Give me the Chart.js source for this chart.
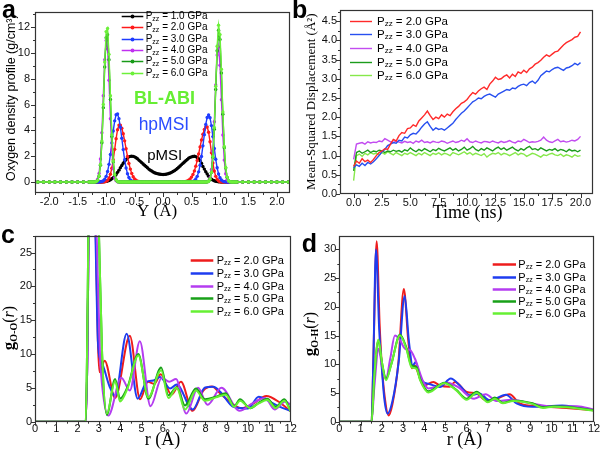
<!DOCTYPE html>
<html>
<head>
<meta charset="utf-8">
<script src="https://cdn.jsdelivr.net/npm/chart.js@4/dist/chart.umd.min.js"></script>
<style>
  html, body { margin: 0; padding: 0; background: #fff; }
  #wrap { position: relative; width: 602px; height: 452px; overflow: hidden; }
  canvas { position: absolute; }
</style>
</head>
<body>
<div id="wrap">
  <canvas id="ca" width="300" height="226" style="left:0;top:0"></canvas>
  <canvas id="cb" width="314" height="226" style="left:288px;top:0"></canvas>
  <canvas id="cc" width="300" height="226" style="left:0;top:226px"></canvas>
  <canvas id="cd" width="302" height="226" style="left:300px;top:226px"></canvas>
</div>
<script>
/* (a) oxygen density profile, Y in Angstrom */
var densX = [
  -2.3,-2.2,-2.1,-2.0,-1.9,-1.8,-1.7,-1.6,-1.5,-1.4,
  -1.3,-1.275,-1.25,-1.225, -1.2,-1.175,-1.15,-1.125, -1.1,-1.075,-1.05,-1.025,
  -1.0,-0.975,-0.95,-0.925, -0.9,-0.875,-0.85,-0.825, -0.8,-0.775,-0.75,-0.725,
  -0.7,-0.675,-0.65,-0.625, -0.6,-0.575,-0.55,-0.525, -0.5,-0.475,-0.45,-0.425,
  -0.4,-0.375,-0.35,-0.325, -0.3,-0.275,-0.25,-0.225, -0.2,-0.175,-0.15,-0.125,
  -0.1,-0.075,-0.05,-0.025, 0,0.025,0.05,0.075, 0.1,0.125,0.15,0.175,
  0.2,0.225,0.25,0.275, 0.3,0.325,0.35,0.375, 0.4,0.425,0.45,0.475,
  0.5,0.525,0.55,0.575, 0.6,0.625,0.65,0.675, 0.7,0.725,0.75,0.775,
  0.8,0.825,0.85,0.875, 0.9,0.925,0.95,0.975, 1.0,1.025,1.05,1.075,
  1.1,1.125,1.15,1.175, 1.2,1.225,1.25,1.275, 1.3,
  1.4,1.5,1.6,1.7,1.8,1.9,2.0,2.1,2.2,2.3
];
var dens10 = [
  0,0,0,0,0,0,0,0,0,0,
  0,0,0,0, 0,0,0,0, 0,0.01,0.02,0.03,
  0.05,0.08,0.12,0.18, 0.25,0.34,0.45,0.59, 0.75,0.92,1.1,1.28,
  1.45,1.61,1.75,1.87, 1.95,1.99,2.0,1.99, 1.95,1.88,1.8,1.7,
  1.6,1.5,1.4,1.3, 1.2,1.1,1.0,0.92, 0.85,0.78,0.72,0.68,
  0.65,0.62,0.6,0.59, 0.58,0.59,0.6,0.63, 0.66,0.7,0.75,0.81,
  0.88,0.96,1.05,1.15, 1.25,1.35,1.45,1.55, 1.65,1.75,1.85,1.91,
  1.95,1.98,2.0,1.97, 1.9,1.8,1.65,1.45, 1.2,1.0,0.8,0.62,
  0.45,0.32,0.22,0.15, 0.1,0.06,0.04,0.02, 0.01,0,0,0,
  0,0,0,0, 0,0,0,0, 0,
  0,0,0,0,0,0,0,0,0,0
];
var dens20 = [
  0,0,0,0,0,0,0,0,0,0,
  0,0,0,0, 0,0,0,0, 0,0,0.01,0.02,
  0.06,0.14,0.31,0.60, 1.07,1.73,2.53,3.36, 4.05,4.41,4.41,4.17,
  3.74,3.19,2.58,1.98, 1.44,1.00,0.66,0.41, 0.24,0.14,0.07,0.04,
  0.02,0.01,0,0,
  0,0,0,0,0,0,0,0, 0,0,0,0,0,0,0,0, 0,0,0,0,0,0,0,0,
  0,0,0.01,0.02, 0.04,0.08,0.14,0.23,
  0.38,0.58,0.86,1.23, 1.67,2.18,2.72,3.25, 3.71,4.07,4.27,4.26,
  3.86,3.12,2.26,1.47, 0.85,0.44,0.21,0.09, 0.03,0.01,0,0,
  0,0,0,0, 0,0,0,0, 0,
  0,0,0,0,0,0,0,0,0,0
];
var dens30 = [
  0,0,0,0,0,0,0,0,0,0,
  0,0,0,0, 0,0,0,0.01, 0.02,0.04,0.10,0.22,
  0.44,0.81,1.37,2.13, 3.03,3.96,4.74,5.22, 5.27,4.91,4.24,3.39,
  2.51,1.72,1.09,0.64, 0.35,0.17,0.08,0.04, 0.01,0,0,0,
  0,0,0,0,0,0,0,0, 0,0,0,0,0,0,0,0, 0,0,0,0,0,0,0,0, 0,0,0,0,0,0,0,0,
  0,0,0,0.01,
  0.02,0.05,0.11,0.23, 0.44,0.79,1.30,1.98, 2.80,3.67,4.46,5.00,
  5.2,4.98,4.37,3.52, 2.60,1.76,1.10,0.62, 0.33,0.16,0.07,0.03,
  0.01,0,0,0, 0,0,0,0, 0,
  0,0,0,0,0,0,0,0,0,0
];
var dens40 = [
  0,0,0,0,0,0,0,0,0,0,
  0,0,0,0, 0.01,0.05,0.21,0.67, 1.78,3.82,6.68,9.48,
  10.96,10.3,7.88,4.9, 2.48,1.02,0.34,0.09, 0.02,0,0,0,
  0,0,0,0,0,0,0,0, 0,0,0,0,0,0,0,0, 0,0,0,0,0,0,0,0, 0,0,0,0,0,0,0,0,
  0,0,0,0,0,0,0,0, 0,0,0,0,0,0,0,0, 0,0,0,0,0,0,0,0,
  0,0,0,0.02,
  0.09,0.33,0.97,2.36, 4.67,7.52,9.83,10.46, 9.05,6.37,3.64,1.70,
  0.64,0.20,0.05,0.01, 0,0,0,0, 0,
  0,0,0,0,0,0,0,0,0,0
];
var dens50 = [
  0,0,0,0,0,0,0,0,0,0,
  0,0,0,0, 0,0.03,0.12,0.45, 1.30,3.04,5.76,8.91,
  11.17,11.41,9.48,6.40, 3.52,1.56,0.57,0.17, 0.04,0.01,0,0,
  0,0,0,0,0,0,0,0, 0,0,0,0,0,0,0,0, 0,0,0,0,0,0,0,0, 0,0,0,0,0,0,0,0,
  0,0,0,0,0,0,0,0, 0,0,0,0,0,0,0,0, 0,0,0,0,0,0,0,0,
  0,0,0,0.01,
  0.06,0.22,0.73,1.91, 4.09,7.17,10.17,11.75, 11.04,8.45,5.25,2.66,
  1.09,0.37,0.10,0.02, 0,0,0,0, 0,
  0,0,0,0,0,0,0,0,0,0
];
var dens60 = [
  0,0,0,0,0,0,0,0,0,0,
  0,0,0,0, 0,0.03,0.13,0.47, 1.36,3.17,6.01,9.29,
  11.65,11.9,9.89,6.68, 3.67,1.63,0.59,0.18, 0.04,0.01,0,0,
  0,0,0,0,0,0,0,0, 0,0,0,0,0,0,0,0, 0,0,0,0,0,0,0,0, 0,0,0,0,0,0,0,0,
  0,0,0,0,0,0,0,0, 0,0,0,0,0,0,0,0, 0,0,0,0,0,0,0,0,
  0,0,0,0.01,
  0.06,0.23,0.75,1.98, 4.23,7.41,10.52,12.15, 11.42,8.74,5.43,2.75,
  1.13,0.38,0.10,0.02, 0,0,0,0, 0,
  0,0,0,0,0,0,0,0,0,0
];

/* (b) mean-squared displacement vs time (ns) */
var msdTime = [
  0,0.25,0.5,0.75,1,1.25,1.5,1.75,
  2,2.25,2.5,2.75,3,3.25,3.5,3.75,
  4,4.25,4.5,4.75,5,5.25,5.5,5.75,
  6,6.25,6.5,6.75,7,7.25,7.5,7.75,
  8,8.25,8.5,8.75,9,9.25,9.5,9.75,
  10,10.25,10.5,10.75,11,11.25,11.5,11.75,
  12,12.25,12.5,12.75,13,13.25,13.5,13.75,
  14,14.25,14.5,14.75,15,15.25,15.5,15.75,
  16,16.25,16.5,16.75,17,17.25,17.5,17.75,
  18,18.25,18.5,18.75,19,19.25,19.5,19.75,
  20
];
var msd20 = [
  0.72,0.86,0.80,0.92,0.84,0.88,0.82,0.90,
  1.00,1.08,1.12,1.18,1.16,1.30,1.42,1.38,
  1.52,1.60,1.58,1.70,1.72,1.80,1.76,1.90,
  1.98,2.06,2.16,2.04,1.94,2.00,1.96,2.06,
  2.00,2.08,2.04,2.14,2.22,2.28,2.36,2.40,
  2.46,2.56,2.64,2.60,2.68,2.74,2.78,2.72,
  2.86,2.94,3.04,2.98,3.00,3.06,3.10,3.02,
  3.12,3.06,3.18,3.14,3.22,3.16,3.26,3.30,
  3.38,3.42,3.48,3.56,3.62,3.58,3.64,3.70,
  3.72,3.80,3.88,3.94,3.98,4.02,4.08,4.10,
  4.22
];
var msd30 = [
  0.68,0.76,0.72,0.80,0.74,0.82,0.78,0.84,
  0.92,1.00,1.10,1.16,1.26,1.30,1.34,1.32,
  1.40,1.38,1.48,1.46,1.54,1.58,1.56,1.64,
  1.74,1.82,1.88,1.76,1.66,1.72,1.68,1.70,
  1.66,1.72,1.78,1.84,1.94,2.02,2.10,2.16,
  2.24,2.32,2.40,2.44,2.50,2.48,2.54,2.58,
  2.60,2.56,2.52,2.60,2.64,2.68,2.72,2.70,
  2.76,2.74,2.80,2.84,2.86,2.82,2.90,2.94,
  2.88,2.96,3.08,3.14,3.20,3.18,3.24,3.28,
  3.30,3.26,3.22,3.28,3.30,3.34,3.40,3.36,
  3.42
];
var msd40 = [
  0.90,1.30,1.32,1.34,1.30,1.36,1.33,1.35,
  1.34,1.38,1.36,1.44,1.40,1.36,1.34,1.38,
  1.35,1.33,1.37,1.34,1.36,1.32,1.38,1.35,
  1.40,1.34,1.36,1.33,1.37,1.35,1.34,1.38,
  1.36,1.32,1.35,1.38,1.34,1.36,1.40,1.37,
  1.44,1.36,1.34,1.38,1.35,1.33,1.37,1.36,
  1.34,1.38,1.35,1.33,1.37,1.34,1.36,1.39,
  1.35,1.33,1.38,1.36,1.42,1.38,1.34,1.36,
  1.35,1.37,1.40,1.48,1.40,1.36,1.34,1.38,
  1.42,1.36,1.38,1.35,1.37,1.40,1.38,1.42,
  1.50
];
var msd50 = [
  0.60,1.08,1.12,1.06,1.10,1.14,1.08,1.12,
  1.10,1.14,1.12,1.08,1.12,1.10,1.14,1.11,
  1.13,1.09,1.15,1.12,1.20,1.14,1.10,1.16,
  1.12,1.18,1.14,1.10,1.16,1.13,1.19,1.15,
  1.12,1.16,1.20,1.14,1.18,1.12,1.16,1.22,
  1.14,1.18,1.24,1.16,1.12,1.18,1.14,1.20,
  1.16,1.12,1.18,1.22,1.16,1.20,1.14,1.18,
  1.22,1.16,1.12,1.18,1.14,1.20,1.24,1.16,
  1.18,1.14,1.20,1.16,1.12,1.16,1.14,1.18,
  1.12,1.16,1.14,1.10,1.16,1.12,1.14,1.10,
  1.14
];
var msd60 = [
  0.35,1.00,1.04,0.98,1.06,1.02,1.08,1.04,
  1.06,1.02,1.08,1.04,1.10,1.06,1.02,1.08,
  1.04,1.00,1.06,1.03,1.08,1.04,1.00,1.06,
  1.02,1.08,1.04,1.00,1.06,1.03,1.07,1.02,
  1.06,1.04,1.00,1.08,1.05,1.02,1.06,1.10,
  1.04,1.08,1.02,1.06,1.03,1.00,1.05,0.96,
  1.02,1.06,1.04,1.08,1.02,1.06,1.04,1.00,
  1.04,1.08,1.02,1.06,1.04,0.98,1.02,1.06,
  1.04,1.00,0.96,1.02,1.00,1.04,1.06,1.02,
  1.00,1.04,0.98,1.02,1.00,0.96,1.02,0.98,
  1.00
];

/* (c) g O-O (r): key points */
var ooX20 = [0,2.38,2.46,2.55,2.7,2.85,2.95,3.03,3.27,3.76,4.45,4.93,5.3,5.6,5.9,6.4,6.85,7.4,7.9,8.3,8.75,9.7,10.3,10.85,11.5,12];
var ooY20 = [0,0,10,38,46,28,12,7.3,9.0,3.5,12.7,3.3,5.9,5.6,7.0,4.0,5.9,1.6,4.6,5.2,4.0,2.0,2.8,3.8,2.8,1.5];
var ooX30 = [0,2.38,2.46,2.55,2.7,2.84,2.95,3.08,3.2,3.5,3.76,4.3,4.82,5.24,5.56,5.87,6.34,6.65,7.4,7.98,8.37,8.7,9.3,10.0,10.5,10.88,11.5,12];
var ooY30 = [0,0,10,38,46,27,12,9.0,8.2,5.2,3.8,13.0,3.4,5.9,6.1,6.6,4.9,5.5,1.8,5.05,5.15,4.4,2.2,1.95,3.7,3.2,2.2,1.6];
var ooX40 = [0,2.38,2.46,2.55,2.7,2.9,3.05,3.2,3.44,4.05,4.45,4.92,5.42,5.95,6.3,6.62,7.1,7.65,8.1,8.75,9.6,10.2,10.8,11.25,11.75,12];
var ooY40 = [0,0,10,38,46,27,10,4.0,0.9,6.5,4.6,11.9,2.3,6.5,5.9,6.3,1.2,5.0,2.5,5.0,1.6,2.7,3.5,1.8,3.0,2.5];
var ooX50 = [0,2.38,2.45,2.55,2.75,2.92,3.0,3.15,3.37,3.76,3.99,4.35,4.85,5.32,5.92,6.26,6.65,7.04,7.55,7.98,8.5,8.95,9.35,9.62,10.1,10.5,10.9,11.3,11.7,12];
var ooY50 = [0,0,12,40,48,36,28,10,1.0,6.3,3.4,5.2,10.0,3.4,8.0,3.9,5.1,2.4,4.9,3.3,3.7,4.2,2.3,3.3,2.0,2.8,3.4,2.2,3.3,1.6];
var ooY60 = [0,0,12,40,48,36,28,10,1.2,6.0,3.0,5.0,9.8,3.6,7.6,3.5,5.0,1.8,4.6,3.1,3.6,4.0,2.2,3.1,2.0,2.7,3.2,2.0,3.1,1.5];

/* (d) g O-H (r) */
var ohX20 = [0,1.52,1.6,1.76,1.9,2.0,2.15,2.32,2.5,2.78,3.04,3.25,3.42,3.56,3.7,3.96,4.43,4.74,5.2,5.45,6.0,6.47,6.94,7.4,8.02,8.5,9.45,10.7,12];
var ohY20 = [0,0,10,31.4,17,10,4,1.1,3.0,10.1,23.1,14.1,9.3,9.8,8.6,6.3,6.9,6.3,6.1,6.9,5.2,4.9,3.7,4.0,4.8,3.2,2.7,2.4,2.0];
var ohX30 = [0,1.52,1.6,1.73,1.88,2.0,2.12,2.27,2.5,2.8,3.08,3.28,3.46,3.6,3.75,3.96,4.2,4.74,5.25,5.68,6.15,6.6,7.1,7.85,8.35,9.1,10.5,12];
var ohY30 = [0,0,10,30.0,16,9.5,4,1.4,3.5,10.5,21.9,14,9.8,10.4,8.5,6.9,6.6,6.05,7.5,6.3,4.6,4.9,3.7,4.7,3.2,2.6,2.8,2.0];
var ohX40 = [0,1.52,1.65,1.85,2.0,2.2,2.4,2.62,2.86,3.1,3.33,3.56,3.96,4.2,4.58,5.1,5.6,6.35,6.9,7.4,8.1,9.0,10.2,11.2,12];
var ohY40 = [0,0,6,12.7,10,7.5,11,15.0,14.2,12.7,12.5,11.0,6.9,5.8,6.1,6.8,6.0,4.0,4.8,3.6,3.8,3.2,2.6,2.7,2.1];
var ohX50 = [0,1.52,1.65,1.84,2.0,2.2,2.45,2.86,3.15,3.4,3.64,3.8,4.2,4.95,5.5,6.0,6.47,7.0,7.33,7.7,8.2,9.1,9.6,10.1,10.7,12];
var ohY50 = [0,0,8,14.1,10.5,7.5,10,15.2,13,9.8,9.5,7.5,5.3,6.8,5.6,4.0,5.2,3.5,4.2,3.3,3.7,3.2,2.5,2.7,2.6,2.0];
var ohY60 = [0,0,8,14.3,10.6,7.2,10,15.0,12.8,9.5,9.2,7.3,5.1,6.7,5.5,3.8,5.0,3.4,4.0,3.2,3.6,3.1,2.4,2.6,2.5,1.9];

var pressA = ['1.0', '2.0', '3.0', '4.0', '5.0', '6.0'];
var pressB = ['2.0', '3.0', '4.0', '5.0', '6.0'];
var colorsA = ['#000000', '#ff1a1a', '#1f3cff', '#c030f0', '#189a18', '#6cf03a'];
var colorsB = ['#ff2a2a', '#2850f0', '#c24cf0', '#1c9c1c', '#86e84a'];
var colorsCD = ['#ee1c1c', '#1e3cf0', '#b43cf0', '#18a018', '#66f033'];

var SANS = '"Liberation Sans", Arial, Helvetica, sans-serif';
var SERIF = '"Liberation Serif", "Times New Roman", Times, serif';

function pts(name, xs, ys) {
    if (xs.length !== ys.length) { throw new Error(name + ': ' + xs.length + ' x vs ' + ys.length + ' y'); }
    return xs.map(function (x, i) { return { x: x, y: ys[i] }; });
}

function tickMarks(ctx, scale, minor, major, horizontal, a) {
    var k0 = Math.ceil(scale.min / minor - 1e-6);
    for (var k = k0; k * minor <= scale.max + 1e-9; k++) {
        var v = k * minor;
        var r = v / major;
        var len = Math.abs(r - Math.round(r)) < 1e-6 ? 4 : 2;
        var p = Math.round(scale.getPixelForValue(v)) + 0.5;
        if (horizontal) { ctx.moveTo(p, a.bottom); ctx.lineTo(p, a.bottom + len); }
        else { ctx.moveTo(a.left, p); ctx.lineTo(a.left - len, p); }
    }
}

// "Pzz = 2.0 GPa" with the zz lowered
function pLabel(ctx, x, y, label, size) {
    ctx.textAlign = 'left';
    ctx.textBaseline = 'middle';
    ctx.font = size + 'px ' + SANS;
    ctx.fillText('P', x, y);
    x += ctx.measureText('P').width;
    ctx.font = Math.round(size * 0.68) + 'px ' + SANS;
    ctx.fillText('zz', x, y + size * 0.22);
    x += ctx.measureText('zz').width;
    ctx.font = size + 'px ' + SANS;
    ctx.fillText(label.slice(3), x, y);
}

var deco = {
    id: 'deco',
    afterDraw: function (chart, args, o) {
        var ctx = chart.ctx, a = chart.chartArea;
        var sx = chart.scales.x, sy = chart.scales.y;
        ctx.save();
        // frame + outward ticks
        ctx.strokeStyle = '#333';
        ctx.lineWidth = 1.2;
        ctx.strokeRect(Math.round(a.left) + 0.5, Math.round(a.top) + 0.5,
            Math.round(a.right - a.left) - 1, Math.round(a.bottom - a.top) - 1);
        ctx.lineWidth = 1;
        ctx.beginPath();
        tickMarks(ctx, sx, o.minorX, o.majorX, true, a);
        tickMarks(ctx, sy, o.minorY, o.majorY, false, a);
        ctx.stroke();

        // legend
        var L = o.legend;
        chart.data.datasets.forEach(function (ds, i) {
            var y = Math.round(L.top + i * L.gap) + 0.5;
            ctx.strokeStyle = ds.borderColor;
            ctx.lineWidth = L.lw;
            ctx.beginPath(); ctx.moveTo(L.x0, y); ctx.lineTo(L.x1, y); ctx.stroke();
            if (L.marker) {
                ctx.fillStyle = ds.borderColor;
                ctx.beginPath(); ctx.arc((L.x0 + L.x1) / 2, y, L.marker, 0, Math.PI * 2); ctx.fill();
            }
            ctx.fillStyle = '#000';
            pLabel(ctx, L.tx, y, ds.label, L.size);
        });

        // notes placed in data units
        (o.notes || []).forEach(function (n) {
            ctx.font = n.font;
            ctx.fillStyle = n.color;
            ctx.textAlign = 'center';
            ctx.textBaseline = 'alphabetic';
            ctx.fillText(n.text, sx.getPixelForValue(n.x), sy.getPixelForValue(n.y));
        });

        // plain titles
        ctx.fillStyle = '#000';
        (o.titles || []).forEach(function (t) {
            ctx.save();
            ctx.translate(t.x, t.y);
            if (t.rot) { ctx.rotate(-Math.PI / 2); }
            ctx.font = t.font;
            ctx.textAlign = 'center';
            ctx.textBaseline = 'middle';
            ctx.fillText(t.text, 0, 0);
            ctx.restore();
        });

        // g_sub(r) style title
        if (o.rich) {
            var R = o.rich, total = 0;
            ctx.save();
            ctx.translate(R.x, R.y);
            ctx.rotate(-Math.PI / 2);
            ctx.textAlign = 'left';
            ctx.textBaseline = 'alphabetic';
            R.parts.forEach(function (p) { ctx.font = p.font; p.w = ctx.measureText(p.text).width; total += p.w; });
            var cx = -total / 2;
            R.parts.forEach(function (p) { ctx.font = p.font; ctx.fillText(p.text, cx, p.dy || 0); cx += p.w; });
            ctx.restore();
        }

        // panel letter
        ctx.font = 'bold 25px ' + SANS;
        ctx.textAlign = 'left';
        ctx.textBaseline = 'alphabetic';
        ctx.fillText(o.letter.text, o.letter.x, o.letter.y);
        ctx.restore();
    }
};

function axis(min, max, step, pad, fit, horizontal, fmt) {
    return {
        type: 'linear', min: min, max: max,
        grid: { display: false, drawTicks: false, tickLength: 0 },
        border: { display: false },
        ticks: {
            stepSize: step, includeBounds: false, autoSkip: false, maxRotation: 0,
            padding: pad, color: '#111', font: { family: SANS, size: 11 },
            callback: function (v) { return fmt ? v.toFixed(fmt) : String(Math.round(v)); }
        },
        afterFit: function (s) { if (horizontal) { s.height = fit; } else { s.width = fit; } }
    };
}

function baseOptions(padding, scales, deco) {
    return {
        animation: false, responsive: false, events: [],
        layout: { padding: padding },
        plugins: { legend: { display: false }, tooltip: { enabled: false }, deco: deco },
        scales: scales
    };
}

function gTitle(sub, x, y) {
    return {
        x: x, y: y,
        parts: [
            { text: 'g', font: 'bold 17px ' + SERIF },
            { text: sub, font: 'bold 10px ' + SERIF, dy: 3 },
            { text: '(', font: '16px ' + SERIF },
            { text: 'r', font: 'italic 16px ' + SERIF },
            { text: ')', font: '16px ' + SERIF }
        ]
    };
}

document.addEventListener('DOMContentLoaded', function () {
    // (a)
    var densY = [dens10, dens20, dens30, dens40, dens50, dens60];
    new Chart(document.getElementById('ca'), {
        type: 'line',
        data: {
            datasets: densY.map(function (ys, i) {
                return {
                    label: 'Pzz = ' + pressA[i] + ' GPa',
                    data: pts('dens' + pressA[i], densX, ys),
                    borderColor: colorsA[i], backgroundColor: colorsA[i],
                    borderWidth: 1.4, pointRadius: 1.7, pointBorderWidth: 0,
                    pointBackgroundColor: colorsA[i], tension: 0, order: densY.length - i
                };
            })
        },
        options: baseOptions({ top: 5, right: 10, left: 0, bottom: 0 }, {
            x: axis(-2.25, 2.23, 0.5, 2, 33, true, 1),
            y: axis(-0.85, 13.2, 2, 5, 35, false, 0)
        }, {
            minorX: 0.25, majorX: 0.5, minorY: 1, majorY: 2,
            legend: { x0: 121.7, x1: 143.3, tx: 145.7, top: 15.7, gap: 11.4, size: 10, lw: 1.5, marker: 1.9 },
            notes: [
                { text: 'BL-ABI', x: 0.025, y: 6.05, font: 'bold 18px ' + SANS, color: '#66ee33' },
                { text: 'hpMSI', x: 0.015, y: 4.06, font: '17.5px ' + SANS, color: '#2a4cff' },
                { text: 'pMSI', x: 0.03, y: 1.67, font: '15px ' + SANS, color: '#000' }
            ],
            titles: [
                { text: 'Y (\u00c5)', x: 157, y: 212, font: '17px ' + SERIF },
                { text: 'Oxygen density profile (g/cm\u00b3)', x: 11.5, y: 97.7, rot: true, font: '12.5px ' + SANS }
            ],
            letter: { text: 'a', x: 2, y: 18 }
        }),
        plugins: [deco]
    });

    // (b)
    var msdY = [msd20, msd30, msd40, msd50, msd60];
    new Chart(document.getElementById('cb'), {
        type: 'line',
        data: {
            datasets: msdY.map(function (ys, i) {
                return {
                    label: 'Pzz = ' + pressB[i] + ' GPa',
                    data: pts('msd' + pressB[i], msdTime, ys),
                    borderColor: colorsB[i], borderWidth: 1.4, pointRadius: 0, tension: 0
                };
            })
        },
        options: baseOptions({ top: 5, right: 9, left: 0, bottom: 0 }, {
            x: axis(-1.2, 21.1, 2.5, 2, 32, true, 1),
            y: axis(0, 4.8, 0.5, 3, 52, false, 1)
        }, {
            minorX: 1.25, majorX: 2.5, minorY: 0.25, majorY: 0.5,
            legend: { x0: 62, x1: 84, tx: 89, top: 20.7, gap: 13.6, size: 11.5, lw: 1.4 },
            titles: [
                { text: 'Time (ns)', x: 179.5, y: 213, font: '18px ' + SERIF },
                { text: 'Mean-Squared Displacement (\u00c5\u00b2)', x: 23.7, y: 101.7, rot: true, font: '13px ' + SERIF }
            ],
            letter: { text: 'b', x: 4, y: 18 }
        }),
        plugins: [deco]
    });

    // (c)
    var ooSets = [[ooX20, ooY20], [ooX30, ooY30], [ooX40, ooY40], [ooX50, ooY50], [ooX50, ooY60]];
    new Chart(document.getElementById('cc'), {
        type: 'line',
        data: {
            datasets: ooSets.map(function (s, i) {
                return {
                    label: 'Pzz = ' + pressB[i] + ' GPa',
                    data: pts('oo' + pressB[i], s[0], s[1]),
                    borderColor: colorsCD[i], borderWidth: 2, pointRadius: 0,
                    cubicInterpolationMode: 'monotone', order: ooSets.length - i
                };
            })
        },
        options: baseOptions({ top: 8.3, right: 9.3, left: 0, bottom: 0 }, {
            x: axis(0, 12, 1, 1, 30.3, true, 0),
            y: axis(0, 27.5, 5, 3, 35, false, 0)
        }, {
            minorX: 0.5, majorX: 1, minorY: 2.5, majorY: 5,
            legend: { x0: 190.7, x1: 213.3, tx: 216.7, top: 34, gap: 12.75, size: 11, lw: 2.5 },
            titles: [{ text: 'r (\u00c5)', x: 162.5, y: 214, font: '18px ' + SERIF }],
            rich: gTitle('O-O', 14, 102),
            letter: { text: 'c', x: 1, y: 17 }
        }),
        plugins: [deco]
    });

    // (d)
    var ohSets = [[ohX20, ohY20], [ohX30, ohY30], [ohX40, ohY40], [ohX50, ohY50], [ohX50, ohY60]];
    new Chart(document.getElementById('cd'), {
        type: 'line',
        data: {
            datasets: ohSets.map(function (s, i) {
                return {
                    label: 'Pzz = ' + pressB[i] + ' GPa',
                    data: pts('oh' + pressB[i], s[0], s[1]),
                    borderColor: colorsCD[i], borderWidth: 2, pointRadius: 0,
                    cubicInterpolationMode: 'monotone', order: ohSets.length - i
                };
            })
        },
        options: baseOptions({ top: 8.3, right: 8, left: 0, bottom: 0 }, {
            x: axis(0, 12, 1, 1, 30.3, true, 0),
            y: axis(0, 32.4, 5, 3, 39.3, false, 0)
        }, {
            minorX: 0.5, majorX: 1, minorY: 2.5, majorY: 5,
            legend: { x0: 192.7, x1: 216, tx: 218.3, top: 38.3, gap: 12.25, size: 11, lw: 2.5 },
            titles: [{ text: 'r (\u00c5)', x: 164.5, y: 214, font: '18px ' + SERIF }],
            rich: gTitle('O-H', 15, 108),
            letter: { text: 'd', x: 1.7, y: 25.7 }
        }),
        plugins: [deco]
    });
});
</script>
</body>
</html>
